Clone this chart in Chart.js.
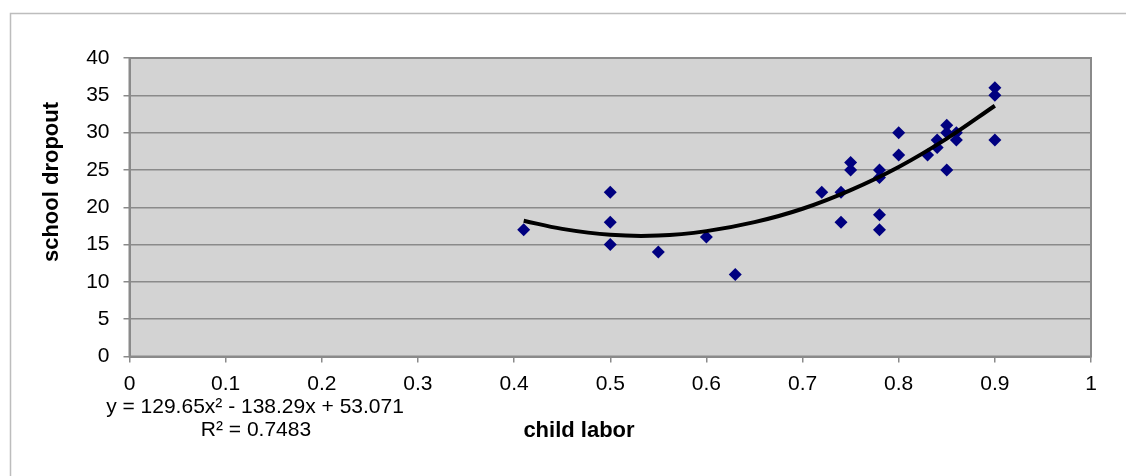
<!DOCTYPE html>
<html>
<head>
<meta charset="utf-8">
<script src="https://cdn.jsdelivr.net/npm/chart.js@4/dist/chart.umd.min.js"></script>
<style>
  body { margin: 0; background: #fff; }
  canvas { display: block; }
</style>
</head>
<body>
<canvas id="chart" width="1126" height="476"></canvas>
<script>
// values
var childLabor = [0.41, 0.5, 0.5, 0.5, 0.55, 0.6, 0.63, 0.72, 0.74, 0.74, 0.75, 0.75,
  0.78, 0.78, 0.78, 0.78, 0.8, 0.8, 0.83, 0.84, 0.84, 0.85, 0.85, 0.85, 0.86, 0.86,
  0.9, 0.9, 0.9];
var schoolDropout = [17, 22, 18, 15, 14, 16, 11, 22, 22, 18, 26, 25,
  25, 24, 19, 17, 30, 27, 27, 29, 28, 31, 30, 25, 30, 29,
  36, 35, 29];

// trend line
var trendX = [0.41, 0.45, 0.5, 0.55, 0.6, 0.65, 0.7, 0.75, 0.8, 0.85, 0.9];
var trendY = [18.2, 17.1, 16.3, 16.2, 16.8, 18.0, 19.8, 22.3, 25.4, 29.2, 33.6];

var xTickLabels = ["0", "0.1", "0.2", "0.3", "0.4", "0.5", "0.6", "0.7", "0.8", "0.9", "1"];
var yTickLabels = ["0", "5", "10", "15", "20", "25", "30", "35", "40"];

var equationText = "y = 129.65x\u00b2 - 138.29x + 53.071";
var rSquaredText = "R\u00b2 = 0.7483";
var xTitle = "child labor";
var yTitle = "school dropout";

var FONT = "'Liberation Sans', Arial, sans-serif";

function toPoints(xs, ys) {
  var pts = [];
  for (var i = 0; i < xs.length; i++) pts.push({x: xs[i], y: ys[i]});
  return pts;
}

var frame = {
  id: 'frame',
  beforeDraw: function(chart) {
    var ctx = chart.ctx, a = chart.chartArea;
    ctx.save();
    // outer chart border
    ctx.strokeStyle = '#bdbdbd';
    ctx.lineWidth = 1.5;
    ctx.strokeRect(10.5, 13.5, 1300, 600);
    ctx.fillStyle = '#d3d3d3';
    ctx.fillRect(a.left, a.top, a.right - a.left, a.bottom - a.top);
    ctx.restore();
  },
  afterDraw: function(chart) {
    var ctx = chart.ctx, a = chart.chartArea;
    ctx.save();
    ctx.strokeStyle = '#8a8a8a';
    ctx.lineWidth = 2;
    ctx.strokeRect(a.left, a.top, a.right - a.left, a.bottom - a.top);

    ctx.fillStyle = '#000';
    ctx.textAlign = 'center';
    ctx.textBaseline = 'middle';
    ctx.font = '21px ' + FONT;
    ctx.fillText(equationText, 255, 407);
    ctx.fillText(rSquaredText, 256, 430);

    ctx.font = 'bold 22px ' + FONT;
    ctx.fillText(xTitle, 579, 431);

    ctx.translate(52, 182);
    ctx.rotate(-Math.PI / 2);
    ctx.fillText(yTitle, 0, 0);
    ctx.restore();
  }
};

new Chart(document.getElementById('chart'), {
  type: 'scatter',
  data: {
    datasets: [{
      label: 'trend',
      data: toPoints(trendX, trendY),
      showLine: true,
      borderColor: '#000',
      borderWidth: 4,
      pointRadius: 0,
      tension: 0.4,
      order: 0
    }, {
      label: 'school dropout',
      data: toPoints(childLabor, schoolDropout),
      pointStyle: 'rectRot',
      pointRadius: 6.5,
      pointHoverRadius: 6.5,
      backgroundColor: '#000080',
      borderColor: '#000080',
      borderWidth: 0,
      order: 1
    }]
  },
  options: {
    responsive: false,
    animation: false,
    devicePixelRatio: 1,
    layout: { padding: { left: 0, top: 58, right: 35, bottom: 0 } },
    plugins: {
      legend: { display: false },
      tooltip: { enabled: false }
    },
    scales: {
      x: {
        type: 'linear',
        min: 0, max: 1,
        afterFit: function(s) { s.height = 119.5; },
        afterBuildTicks: function(s) {
          s.ticks = xTickLabels.map(function(t) { return {value: parseFloat(t)}; });
        },
        ticks: {
          callback: function(v, i) { return xTickLabels[i]; },
          color: '#000',
          font: { family: FONT, size: 21 },
          padding: 9,
          maxRotation: 0
        },
        grid: { drawOnChartArea: false, drawTicks: true, tickLength: 6, color: '#8a8a8a', lineWidth: 1.5 },
        border: { color: '#8a8a8a', width: 2 }
      },
      y: {
        type: 'linear',
        min: 0, max: 40,
        afterFit: function(s) { s.width = 129.5; },
        afterBuildTicks: function(s) {
          s.ticks = yTickLabels.map(function(t) { return {value: parseFloat(t)}; });
        },
        ticks: {
          callback: function(v, i) { return yTickLabels[i]; },
          color: '#000',
          font: { family: FONT, size: 21 },
          padding: 14
        },
        grid: { drawTicks: true, tickLength: 6, color: '#8a8a8a', lineWidth: 1.5 },
        border: { color: '#8a8a8a', width: 2 }
      }
    }
  },
  plugins: [frame]
});
</script>
</body>
</html>
